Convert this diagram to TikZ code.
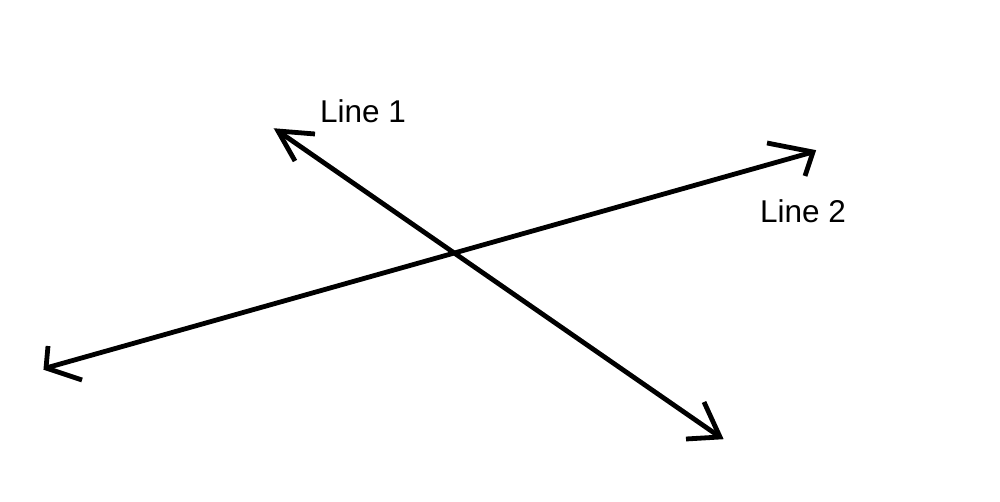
\documentclass[tikz,border=0pt]{standalone}
\usepackage{fontspec}
\setmainfont{Liberation Sans}
\begin{document}
\begin{tikzpicture}[x=1pt,y=-1pt,
  ln/.style={line width=4.8pt,black},
  barb/.style={line width=4.8pt,black,line join=miter,line cap=butt},
  lbl/.style={inner sep=0pt,anchor=base west,font=\fontsize{31.5}{36}\selectfont}]
\useasboundingbox[fill=white] (0,0) rectangle (1000,502);
% Line 1
\coordinate (p1) at (278,131);
\coordinate (q1) at (720,437);
\draw[ln] (p1) -- (q1);
\draw[barb] (315,134) -- (p1) -- (295,161);
\draw[barb] (686,439) -- (q1) -- (704,402);
% Line 2
\coordinate (p2) at (46,368);
\coordinate (q2) at (813,152);
\draw[ln] (p2) -- (q2);
\draw[barb] (48,346) -- (p2) -- (82,380);
\draw[barb] (767,143) -- (q2) -- (805,176);
% labels
\node[lbl] (l1) at (320,123) {Line 1};
\node[lbl] (l2) at (760,223) {Line 2};
\end{tikzpicture}
\end{document}
